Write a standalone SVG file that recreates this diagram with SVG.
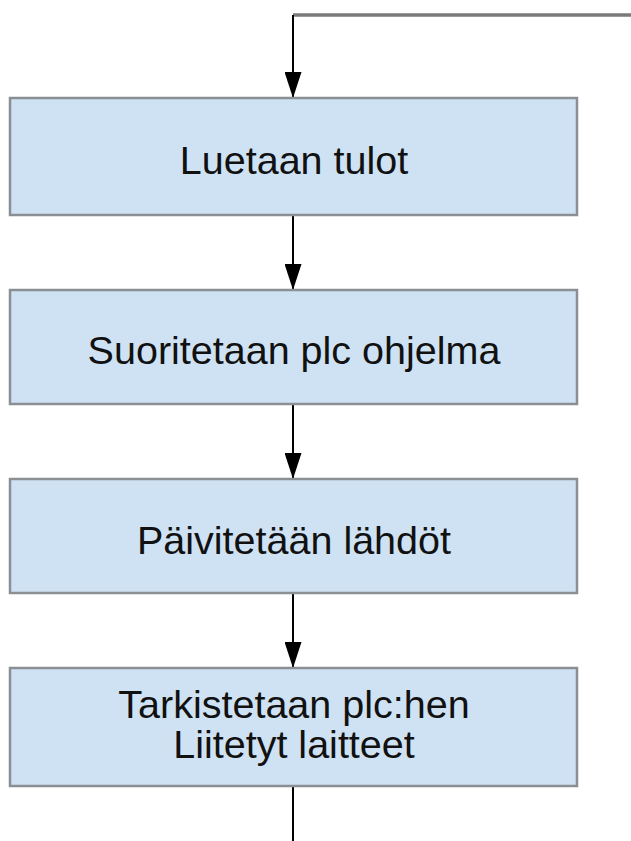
<svg xmlns="http://www.w3.org/2000/svg" width="631" height="841" viewBox="0 0 631 841">
  <style>
    .box { fill: #cfe2f3; stroke: #8a8f94; stroke-width: 2.5; }
    .lbl { font-family: "Liberation Sans", Arial, sans-serif; font-size: 39.5px; fill: #111; text-anchor: middle; }
    .wire { stroke: #000; stroke-width: 2; fill: none; }
    .loop { stroke: #7a7a7a; stroke-width: 3.5; fill: none; }
  </style>
  <defs>
    <!-- filled triangular head, tip at the end of the line -->
    <marker id="arrow" markerWidth="26" markerHeight="17" refX="26" refY="8.5" orient="auto" markerUnits="userSpaceOnUse" viewBox="0 0 26 17">
      <path d="M0,0 L26,8.5 L0,17 Z" fill="#000"/>
    </marker>
  </defs>

  <g id="connectors">
    <path class="loop" d="M631,15 L293,15"/>
    <path class="wire" d="M293,15 L293,98" marker-end="url(#arrow)"/>
    <path class="wire" d="M293,215 L293,290" marker-end="url(#arrow)"/>
    <path class="wire" d="M293,404 L293,479" marker-end="url(#arrow)"/>
    <path class="wire" d="M293,593 L293,668" marker-end="url(#arrow)"/>
    <path class="wire" d="M293,786 L293,841"/>
  </g>

  <g id="read-inputs">
    <rect class="box" x="10" y="98" width="567" height="117"/>
    <text class="lbl" x="294" y="174">Luetaan tulot</text>
  </g>

  <g id="run-program">
    <rect class="box" x="10" y="290" width="567" height="114"/>
    <text class="lbl" x="294" y="364">Suoritetaan plc ohjelma</text>
  </g>

  <g id="update-outputs">
    <rect class="box" x="10" y="479" width="567" height="114"/>
    <text class="lbl" x="294" y="554">Päivitetään lähdöt</text>
  </g>

  <g id="check-devices">
    <rect class="box" x="10" y="668" width="567" height="118"/>
    <text class="lbl" x="294" y="718">Tarkistetaan plc:hen</text>
    <text class="lbl" x="294" y="758">Liitetyt laitteet</text>
  </g>
</svg>
